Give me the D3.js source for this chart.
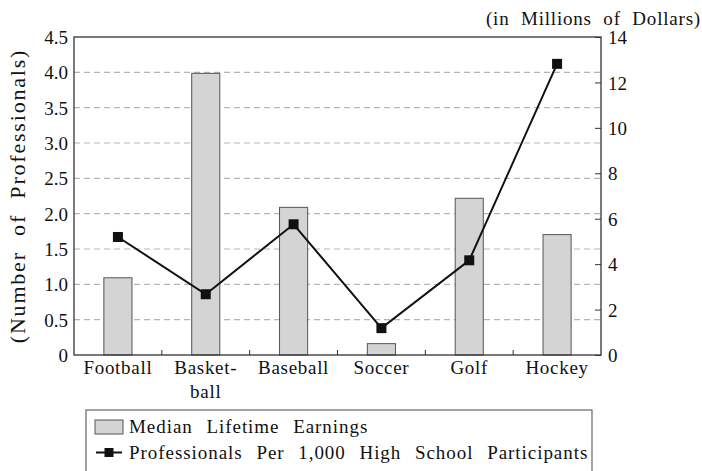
<!DOCTYPE html>
<html>
<head>
<meta charset="utf-8">
<script src="https://cdn.jsdelivr.net/npm/d3@7"></script>
<style>
  body { margin: 0; background: #fff; }
  svg text { font-family: "Liberation Serif", "DejaVu Serif", serif !important; fill: #111; }
</style>
</head>
<body>
<svg id="chart" width="702" height="471"></svg>
<script>
// data
const sports = ["Football", "Basketball", "Baseball", "Soccer", "Golf", "Hockey"];
const sportLabels = [["Football"], ["Basket-", "ball"], ["Baseball"], ["Soccer"], ["Golf"], ["Hockey"]];
const earnings = [3.4, 12.4, 6.5, 0.5, 6.9, 5.3];          // millions of dollars, right axis
const prosPer1000 = [1.67, 0.86, 1.85, 0.38, 1.34, 4.12];  // left axis
const leftTicks = [0, 0.5, 1.0, 1.5, 2.0, 2.5, 3.0, 3.5, 4.0, 4.5];
const rightTicks = [0, 2, 4, 6, 8, 10, 12, 14];
const legendLabels = ["Median Lifetime Earnings", "Professionals Per 1,000 High School Participants"];

const pLeft = 74, pRight = 601, pTop = 37, pBottom = 355;

const svg = d3.select("#chart");

const x = d3.scaleBand().domain(sports).range([pLeft, pRight]);
const yL = d3.scaleLinear().domain([0, 4.5]).range([pBottom, pTop]);
const yR = d3.scaleLinear().domain([0, 14]).range([pBottom, pTop]);

// dashed grid on the left scale
svg.append("g")
  .selectAll("line")
  .data(leftTicks.filter(d => d > 0 && d < 4.5))
  .join("line")
  .attr("x1", pLeft).attr("x2", pRight)
  .attr("y1", d => yL(d)).attr("y2", d => yL(d))
  .attr("stroke", "#b5b5b5")
  .attr("stroke-width", 1.2)
  .attr("stroke-dasharray", "6,4");

// bars
const barW = x.bandwidth() * 0.32;
svg.append("g")
  .selectAll("rect")
  .data(earnings)
  .join("rect")
  .attr("x", (d, i) => x(sports[i]) + x.bandwidth() / 2 - barW / 2)
  .attr("y", d => yR(d))
  .attr("width", barW)
  .attr("height", d => pBottom - yR(d))
  .attr("fill", "#d4d4d4")
  .attr("stroke", "#555")
  .attr("stroke-width", 1);

// frame
svg.append("rect")
  .attr("x", pLeft).attr("y", pTop)
  .attr("width", pRight - pLeft).attr("height", pBottom - pTop)
  .attr("fill", "none").attr("stroke", "#333").attr("stroke-width", 1.3);

// category separators on the bottom axis
svg.append("g")
  .selectAll("line")
  .data(sports.slice(1))
  .join("line")
  .attr("x1", d => x(d)).attr("x2", d => x(d))
  .attr("y1", pBottom).attr("y2", pBottom - 5)
  .attr("stroke", "#333");

// left axis
const gL = svg.append("g")
  .attr("transform", `translate(${pLeft},0)`)
  .call(d3.axisLeft(yL).tickValues(leftTicks).tickSize(0).tickPadding(6)
    .tickFormat(d => d === 0 ? "0" : d3.format(".1f")(d)));
gL.select(".domain").remove();
gL.selectAll("text").style("font-size", "19px").attr("dy", "0.35em");

// right axis
const gR = svg.append("g")
  .attr("transform", `translate(${pRight},0)`)
  .call(d3.axisRight(yR).tickValues(rightTicks).tickSize(-6).tickPadding(7)
    .tickFormat(d3.format("d")));
gR.select(".domain").remove();
gR.selectAll("line").attr("stroke", "#333");
gR.selectAll("text").style("font-size", "19px").attr("dy", "0.35em");

// bottom labels
const gB = svg.append("g")
  .attr("transform", `translate(0,${pBottom})`)
  .call(d3.axisBottom(x).tickSize(0).tickFormat(""));
gB.select(".domain").remove();
gB.selectAll(".tick text").remove();
gB.selectAll(".tick").append("text")
  .attr("text-anchor", "middle")
  .style("font-size", "19px")
  .style("letter-spacing", "0.7px")
  .attr("y", 18.5)
  .selectAll("tspan")
  .data((d, i) => sportLabels[i])
  .join("tspan")
  .attr("x", 0)
  .attr("dy", (d, i) => i === 0 ? 0 : 24.5)
  .text(d => d);

// line series
const line = d3.line()
  .x((d, i) => x(sports[i]) + x.bandwidth() / 2)
  .y(d => yL(d));
svg.append("path")
  .datum(prosPer1000)
  .attr("d", line)
  .attr("fill", "none")
  .attr("stroke", "#111")
  .attr("stroke-width", 2);
svg.append("g")
  .selectAll("rect")
  .data(prosPer1000)
  .join("rect")
  .attr("x", (d, i) => x(sports[i]) + x.bandwidth() / 2 - 5)
  .attr("y", d => yL(d) - 5)
  .attr("width", 10).attr("height", 10)
  .attr("fill", "#111");

// axis titles
svg.append("text")
  .attr("transform", `translate(25,${(pTop + pBottom) / 2}) rotate(-90)`)
  .attr("text-anchor", "middle")
  .style("font-size", "22px")
  .style("letter-spacing", "1.8px")
  .style("word-spacing", "8px")
  .text("(Number of Professionals)");

svg.append("text")
  .attr("x", 701).attr("y", 25)
  .attr("text-anchor", "end")
  .style("font-size", "19px")
  .style("letter-spacing", "0.8px")
  .style("word-spacing", "6px")
  .text("(in Millions of Dollars)");

// legend
const lg = svg.append("g");
lg.append("rect")
  .attr("x", 86).attr("y", 410).attr("width", 506).attr("height", 80)
  .attr("fill", "none").attr("stroke", "#666").attr("stroke-width", 1.2);
lg.append("rect")
  .attr("x", 95).attr("y", 420).attr("width", 28).attr("height", 14)
  .attr("fill", "#d4d4d4").attr("stroke", "#555");
lg.append("line")
  .attr("x1", 96).attr("x2", 122).attr("y1", 452.5).attr("y2", 452.5)
  .attr("stroke", "#111").attr("stroke-width", 2);
lg.append("rect")
  .attr("x", 104.5).attr("y", 448).attr("width", 9).attr("height", 9)
  .attr("fill", "#111");
lg.selectAll("text.leg")
  .data(legendLabels)
  .join("text")
  .attr("class", "leg")
  .attr("x", 129)
  .attr("y", (d, i) => 433 + i * 26)
  .style("font-size", "19px")
  .style("letter-spacing", "0.95px")
  .style("word-spacing", "8px")
  .text(d => d);
</script>
</body>
</html>
